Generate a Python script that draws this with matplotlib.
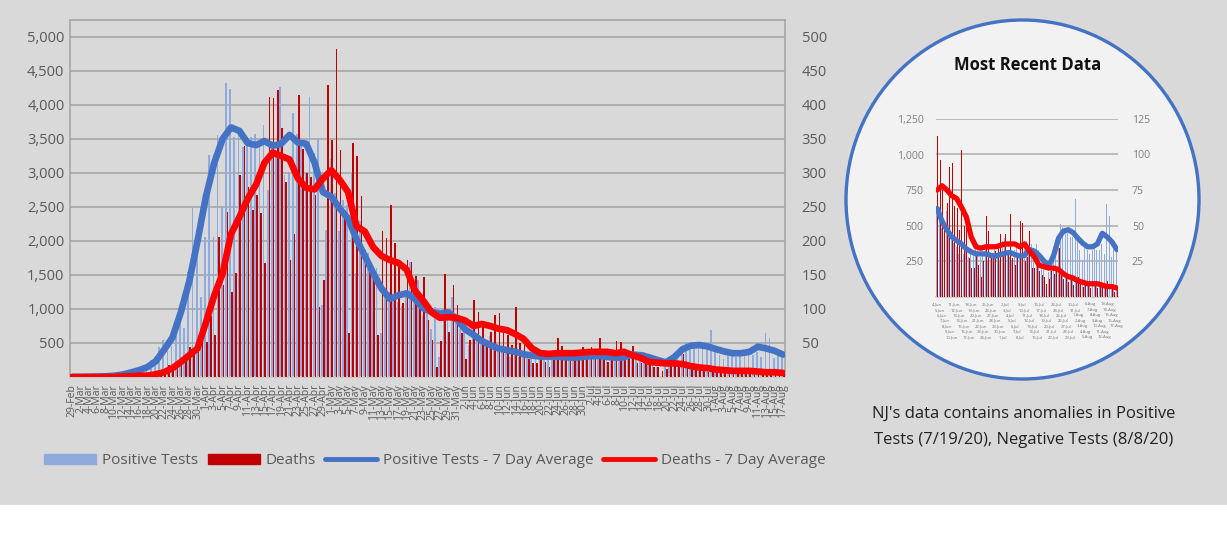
import matplotlib
matplotlib.use('Agg')
import matplotlib.pyplot as plt
from matplotlib.patches import Ellipse, Rectangle, Patch
from matplotlib.lines import Line2D
from matplotlib.ticker import FuncFormatter
import numpy as np
import pandas as pd

plt.rcParams['font.family'] = ['Open Sans', 'DejaVu Sans']

# ---------------- data ----------------
dates = pd.date_range('2020-02-29', '2020-08-17', freq='D')
day_labels = [f"{d.day}-{d.strftime('%b')}" for d in dates]

positive_tests = [
    0, 0, 0, 0, 1, 1, 2, 3, 4, 5,
    8, 12, 18, 25, 40, 60, 80, 120, 160, 250,
    300, 440, 550, 380, 460, 620, 840, 720, 1550, 2480,
    2040, 1180, 2060, 3260, 2060, 3560, 2500, 4320, 4230, 3530,
    3630, 3380, 3530, 3530, 3580, 3385, 3700, 2750, 3430, 3330,
    4260, 2970, 3000, 3880, 3580, 3450, 3000, 4120, 3300, 3510,
    1060, 2160, 3200, 2700, 2150, 2600, 2530, 3010, 1530, 2300,
    1700, 1820, 1500, 1600, 650, 1300, 1250, 1150, 1100, 1050,
    1200, 1690, 1100, 1430, 900, 1000, 700, 1030, 300, 1000,
    900, 1180, 900, 700, 670, 470, 590, 530, 480, 500,
    600, 450, 400, 380, 350, 300, 420, 300, 350, 280,
    300, 320, 390, 330, 280, 300, 330, 260, 280, 300,
    330, 280, 250, 390, 410, 300, 280, 260, 330, 350,
    300, 280, 390, 390, 300, 370, 340, 370, 330, 280,
    200, -30, 170, 180, 350, 400, 430, 510, 490, 450,
    450, 420, 420, 690, 400, 330, 260, 380, 330, 300,
    330, 340, 330, 330, 370, 300, 650, 570, 280, 330,
    330,
]

deaths = [
    0, 0, 0, 0, 0, 0, 0, 0, 0, 0,
    1, 0, 0, 1, 1, 1, 2, 3, 3, 5,
    6, 9, 8, 17, 15, 20, 27, 25, 44, 37,
    37, 69, 52, 90, 62, 206, 135, 243, 125, 153,
    297, 339, 280, 246, 268, 241, 167, 412, 410, 422,
    366, 287, 172, 211, 415, 336, 300, 294, 268, 103,
    143, 429, 349, 482, 334, 233, 64, 344, 325, 266,
    187, 162, 148, 62, 214, 204, 253, 197, 162, 109,
    172, 169, 148, 103, 147, 84, 54, 15, 53, 151,
    66, 135, 106, 64, 27, 54, 113, 96, 75, 50,
    66, 91, 94, 64, 62, 47, 103, 50, 52, 27,
    20, 20, 30, 22, 14, 25, 57, 46, 27, 30,
    32, 35, 44, 30, 44, 30, 58, 27, 22, 30,
    53, 52, 25, 28, 46, 20, 20, 22, 18, 15,
    14, 9, 12, 18, 16, 20, 34, 15, 12, 14,
    10, 12, 8, 10, 14, 9, 7, 10, 8, 6,
    8, 9, 6, 10, 7, 8, 11, 5, 8, 3,
    5,
]

# 7-day averages, every second day (index 0, 2, ..., 170)
avg_days = list(range(0, 171, 2))
positive_avg = [
    0, 0, 3, 6, 10, 18, 35, 65, 100, 145,
    230, 400, 580, 950, 1400, 2000, 2650, 3150, 3500, 3670,
    3620, 3440, 3410, 3470, 3400, 3430, 3560, 3450, 3430, 3150,
    2720, 2650, 2480, 2330, 2030, 1780, 1530, 1300, 1150, 1200,
    1230, 1150, 1010, 960, 930, 950, 850, 700, 620, 530,
    470, 420, 395, 370, 335, 315, 300, 300, 300, 290,
    285, 295, 305, 310, 295, 285, 290, 330, 320, 290,
    250, 215, 290, 410, 460, 470, 450, 410, 375, 350,
    350, 370, 445, 420, 385, 330,
]
deaths_avg = [
    0, 0, 0, 0, 0, 0, 1, 1, 2, 2,
    4, 7, 13, 22, 32, 42, 80, 120, 152, 210,
    235, 262, 283, 315, 330, 325, 320, 292, 278, 276,
    292, 304, 290, 272, 222, 214, 191, 178, 172, 168,
    158, 127, 112, 95, 87, 88, 87, 83, 75, 78,
    75, 71, 69, 63, 56, 42, 35, 34, 35, 35,
    35, 36, 37, 37, 37, 35, 37, 32, 28, 22,
    21, 20, 20, 19, 16, 14, 13, 11, 10, 9,
    9, 9, 8, 7, 7, 6,
]

inset_start = 96  # first day shown in "Most Recent Data"

# ---------------- styling ----------------
C_POS = '#8FAADC'
C_DEA = '#C00000'
C_POS_AVG = '#4472C4'
C_DEA_AVG = '#FF0000'
C_TXT = '#595959'
C_GRID = '#ababab'

W, H = 1227, 543
fig = plt.figure(figsize=(W / 100, H / 100), dpi=100)
fig.patch.set_facecolor('white')


def rect(l, t, r, b):
    return [l / W, 1 - b / H, (r - l) / W, (b - t) / H]


# background & circle
bg = fig.add_axes([0, 0, 1, 1], zorder=0)
bg.set_xlim(0, W)
bg.set_ylim(H, 0)
bg.axis('off')
bg.add_patch(Rectangle((0, 0), W, 505, color='#d9d9d9', lw=0))
bg.add_patch(Ellipse((1022.5, 199.5), 353, 359, facecolor='#f2f2f2',
                     edgecolor='#4472C4', lw=2.4))
bg.text(1028, 65, 'Most Recent Data', ha='center', va='center',
        fontsize=12, fontweight='bold', color='#111111')
bg.text(1024, 414, "NJ's data contains anomalies in Positive", ha='center',
        va='center', fontsize=12, color='#222222')
bg.text(1024, 440, "Tests (7/19/20), Negative Tests (8/8/20)", ha='center',
        va='center', fontsize=12, color='#222222')

x = np.arange(len(dates))
comma = FuncFormatter(lambda v, p: f"{int(v):,}")


def build(r, xlim, ylim_l, ticks_l, ylim_r, ticks_r, idx, lw_line, tick_fs,
          tick_col, lpad, rpad, grid_lw, frame=True):
    a = fig.add_axes(r, zorder=1)
    a.set_facecolor('none')
    a.bar(x[idx] - 0.2, np.array(positive_tests)[idx], 0.4, color=C_POS,
          lw=0, zorder=2)
    a.set_xlim(*xlim)
    a.set_ylim(*ylim_l)
    a.set_yticks(ticks_l)
    a.yaxis.set_major_formatter(comma)
    a.yaxis.grid(True, color=C_GRID, lw=grid_lw)
    a.set_axisbelow(True)
    a.tick_params(axis='y', length=0, pad=lpad, labelsize=tick_fs,
                  labelcolor=tick_col)
    for s in ['left', 'right', 'top']:
        a.spines[s].set_visible(frame)
        a.spines[s].set_color('#a6a6a6')
        a.spines[s].set_linewidth(1.2)
    a.spines['bottom'].set_color('#c8c8c8')
    a.spines['bottom'].set_linewidth(1.2)

    a2 = a.twinx()
    a2.set_zorder(2)
    a2.set_facecolor('none')
    a2.bar(x[idx] + 0.2, np.array(deaths)[idx], 0.4, color=C_DEA, lw=0)
    a2.set_ylim(*ylim_r)
    a2.set_yticks(ticks_r)
    a2.tick_params(axis='y', length=0, pad=rpad, labelsize=tick_fs,
                   labelcolor=tick_col)
    for s in a2.spines.values():
        s.set_visible(False)

    ad = np.array(avg_days)
    m = ad >= xlim[0]
    a3 = fig.add_axes(r, zorder=3, sharex=a, sharey=a)
    a3.axis('off')
    a3.plot(ad[m], np.array(positive_avg)[m], color=C_POS_AVG, lw=lw_line,
            solid_capstyle='round', solid_joinstyle='round')
    a4 = fig.add_axes(r, zorder=4, sharex=a, sharey=a2)
    a4.axis('off')
    a4.plot(ad[m], np.array(deaths_avg)[m], color=C_DEA_AVG, lw=lw_line,
            solid_capstyle='round', solid_joinstyle='round')
    return a


# main chart
main_idx = np.arange(len(dates))
ax = build(rect(70, 20, 785, 377), (-0.5, len(dates) - 0.5), (0, 5250),
           range(500, 5001, 500), (0, 525), range(50, 501, 50), main_idx,
           4.8, 10.5, C_TXT, 4, 12, 1.3)
ax.set_xticks(x[::2])
ax.set_xticklabels(day_labels[::2], rotation=90, fontsize=7.5, color=C_TXT)
ax.tick_params(axis='x', length=0, pad=5)

# inset chart
ins_idx = np.arange(inset_start, len(dates))
iax = build(rect(936, 119, 1118, 296.5), (inset_start - 0.5, len(dates) - 0.5),
            (0, 1250), range(250, 1251, 250), (0, 125), range(25, 126, 25),
            ins_idx, 3.8, 7.6, '#7f7f7f', 9, 10, 1.1, frame=False)
iax.set_xticks([])
trans = iax.get_xaxis_transform()
for k, i in enumerate(ins_idx):
    row = k % 7
    iax.text(i, -(6 + row * 5.4) / 177.5, day_labels[i], transform=trans,
             fontsize=3.0, color='#6f6f6f', ha='center', va='top',
             clip_on=False)

# legend
handles = [Patch(color=C_POS), Patch(color=C_DEA),
           Line2D([], [], color=C_POS_AVG, lw=3.5, solid_capstyle='round'),
           Line2D([], [], color=C_DEA_AVG, lw=3.5, solid_capstyle='round')]
labels = ['Positive Tests', 'Deaths', 'Positive Tests - 7 Day Average',
          'Deaths - 7 Day Average']
leg = fig.legend(handles, labels, loc='center', bbox_to_anchor=(435 / W, 1 - 461 / H),
                 ncol=4, frameon=False, fontsize=11, handlelength=3.4,
                 handleheight=0.6, handletextpad=0.4, columnspacing=0.6,
                 labelcolor=C_TXT)

fig.savefig('out.png', dpi=100, facecolor=fig.get_facecolor())
